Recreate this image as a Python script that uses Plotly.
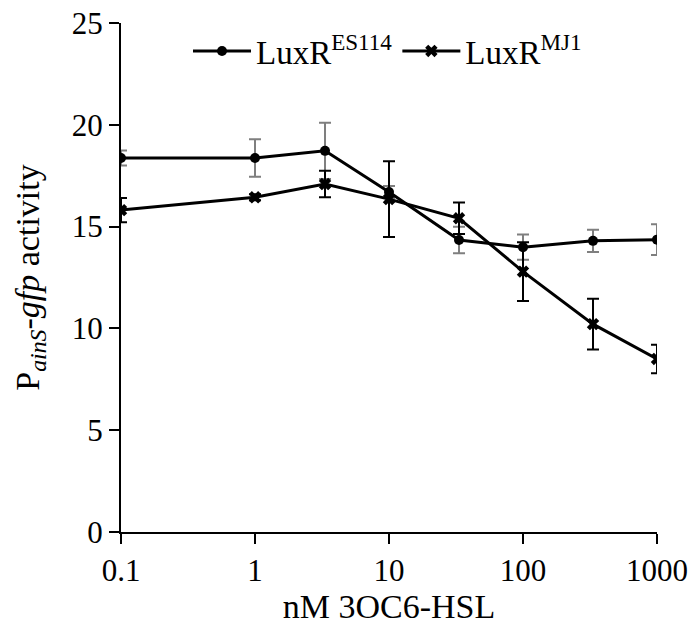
import plotly.graph_objects as go

conc_nM = [0.1, 1, 3.33, 10, 33.3, 100, 333, 1000]
es114_mean = [18.37, 18.37, 18.72, 16.7, 14.34, 13.99, 14.3, 14.36]
es114_err = [0.37, 0.92, 1.38, 0.3, 0.65, 0.62, 0.55, 0.76]
mj1_mean = [15.81, 16.44, 17.09, 16.35, 15.41, 12.79, 10.21, 8.5]
mj1_err = [0.6, 0.15, 0.65, 1.86, 0.77, 1.44, 1.25, 0.7]

x_ticks = [0.1, 1, 10, 100, 1000]
x_ticklabels = ["0.1", "1", "10", "100", "1000"]
y_ticks = [0, 5, 10, 15, 20, 25]

FONT = "Liberation Serif, Times New Roman, serif"

fig = go.Figure()
fig.add_trace(go.Scatter(
    x=conc_nM, y=es114_mean, mode="lines+markers",
    name="LuxR<sup>ES114</sup>",
    line=dict(color="black", width=3),
    marker=dict(symbol="circle", size=10, color="black"),
    error_y=dict(type="data", array=es114_err, visible=True,
                 color="#7f7f7f", thickness=2, width=6),
))
fig.add_trace(go.Scatter(
    x=conc_nM, y=mj1_mean, mode="lines+markers",
    name="LuxR<sup>MJ1</sup>",
    line=dict(color="black", width=3),
    marker=dict(symbol="x", size=11, color="black"),
    error_y=dict(type="data", array=mj1_err, visible=True,
                 color="black", thickness=2, width=6),
))

fig.update_layout(
    width=693, height=626,
    margin=dict(l=121, r=36, t=23, b=94),
    paper_bgcolor="white", plot_bgcolor="white",
    font=dict(family=FONT, size=31, color="black"),
    showlegend=True,
    legend=dict(orientation="h", x=0.125, y=1.0, xanchor="left", yanchor="top",
                font=dict(size=33), itemwidth=58, bgcolor="rgba(0,0,0,0)",
                tracegroupgap=0),
    xaxis=dict(type="log", range=[-1, 3], tickvals=x_ticks, ticktext=x_ticklabels,
               showgrid=False, zeroline=False, showline=True, linecolor="black",
               linewidth=2, ticks="outside", ticklen=10, tickwidth=2, tickcolor="black",
               title=dict(text="nM 3OC6-HSL", standoff=2, font=dict(size=34)),
               tickfont=dict(size=31), automargin=False),
    yaxis=dict(range=[0, 25], tickvals=y_ticks, showgrid=False, zeroline=False,
               showline=True, linecolor="black", linewidth=2, ticks="outside",
               ticklen=10, tickwidth=2, tickcolor="black",
               title=dict(text="P<sub><i>ainS</i></sub>-<i>gfp</i> activity", standoff=22,
                          font=dict(size=34)),
               tickfont=dict(size=31), automargin=False),
)

fig.write_html("out.html")
